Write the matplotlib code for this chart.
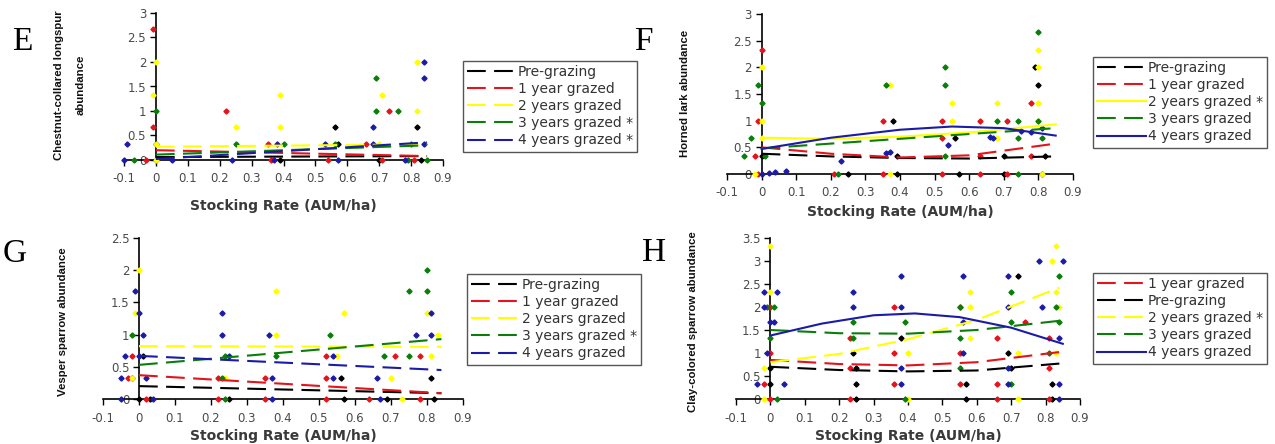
import numpy as np
import matplotlib
matplotlib.use('Agg')
import matplotlib.pyplot as plt
from matplotlib.ticker import FuncFormatter

W, H = 1275, 444

series = ['Pre-grazing', '1 year grazed', '2 years grazed', '3 years grazed', '4 years grazed']
colors = ['#000000', '#e3141b', '#ffff00', '#0a7d0a', '#1b1ba8']

# ---------------- E : chestnut-collared longspur ----------------
e_pre_x = [0.0, 0.0, 0.39, 0.56, 0.57, 0.70, 0.82, 0.83]
e_pre_y = [0.33, 0.0, 0.0, 0.67, 0.33, 0.0, 0.67, 0.0]
e_y1_x = [-0.01, -0.01, -0.03, 0.22, 0.35, 0.36, 0.54, 0.66, 0.73, 0.71, 0.81]
e_y1_y = [2.67, 0.67, 0.0, 1.0, 0.33, 0.0, 0.0, 0.33, 1.0, 0.0, 0.0]
e_y2_x = [0.0, -0.01, 0.0, 0.25, 0.39, 0.39, 0.71, 0.70, 0.82, 0.82, 0.0]
e_y2_y = [2.0, 1.33, 0.33, 0.67, 1.33, 0.67, 1.33, 0.33, 2.0, 1.0, 0.0]
e_y3_x = [0.0, -0.07, 0.25, 0.40, 0.56, 0.69, 0.69, 0.76, 0.80, 0.79, 0.85]
e_y3_y = [1.0, 0.0, 0.33, 0.33, 0.33, 1.67, 1.0, 1.0, 0.33, 0.0, 0.0]
e_y4_x = [-0.09, -0.1, 0.05, 0.24, 0.38, 0.37, 0.53, 0.57, 0.68, 0.68, 0.84, 0.84, 0.84, 0.78]
e_y4_y = [0.33, 0.0, 0.0, 0.0, 0.33, 0.0, 0.33, 0.0, 0.67, 0.33, 2.0, 1.67, 0.33, 0.0]
# trend lines
e_line_x = [0.0, 0.85]
e_line_pre = [0.06, 0.08]
e_line_y1 = [0.20, 0.08]
e_line_y2 = [0.27, 0.32]
e_line_y3 = [0.11, 0.30]
e_line_y4 = [0.02, 0.36]

# ---------------- F : horned lark ----------------
f_pre_x = [0.0, 0.25, 0.38, 0.39, 0.39, 0.56, 0.57, 0.70, 0.70, 0.79, 0.80, 0.81, 0.82]
f_pre_y = [0.33, 0.0, 1.0, 0.33, 0.0, 0.67, 0.0, 0.33, 0.0, 2.0, 1.67, 0.0, 0.33]
f_y1_x = [0.0, -0.01, -0.02, -0.01, 0.21, 0.35, 0.35, 0.52, 0.52, 0.52, 0.63, 0.63, 0.63, 0.71, 0.71, 0.78, 0.78]
f_y1_y = [2.33, 1.0, 0.33, 0.0, 0.0, 1.0, 0.0, 1.0, 0.67, 0.0, 1.0, 0.33, 0.0, 1.0, 0.0, 1.33, 0.33]
f_y2_x = [0.0, 0.0, 0.0, -0.02, 0.37, 0.37, 0.55, 0.55, 0.68, 0.68, 0.80, 0.80, 0.80, 0.80, 0.81]
f_y2_y = [2.0, 1.0, 0.67, 0.0, 1.67, 0.0, 1.33, 1.0, 1.33, 0.67, 2.33, 2.0, 1.33, 1.0, 0.0]
f_y3_x = [-0.01, 0.0, -0.03, -0.05, 0.01, 0.22, 0.36, 0.53, 0.53, 0.53, 0.68, 0.74, 0.74, 0.74, 0.80, 0.80, 0.81]
f_y3_y = [1.67, 1.33, 0.67, 0.33, 0.33, 0.0, 1.67, 2.0, 1.67, 0.33, 1.0, 1.0, 0.67, 0.0, 2.67, 1.0, 0.67]
f_y4_x = [0.0, 0.02, 0.04, 0.07, 0.23, 0.36, 0.37, 0.54, 0.66, 0.67, 0.75, 0.78, 0.81]
f_y4_y = [0.0, 0.02, 0.03, 0.05, 0.25, 0.40, 0.42, 0.55, 0.70, 0.68, 0.80, 0.79, 0.86]
f_line_x = [0.0, 0.2, 0.4, 0.6, 0.85]
f_line_pre = [0.38, 0.33, 0.30, 0.29, 0.33]
f_line_y1 = [0.50, 0.38, 0.31, 0.35, 0.57]
f_line_y2 = [0.68, 0.66, 0.70, 0.78, 0.93]
f_line_y3 = [0.48, 0.57, 0.66, 0.75, 0.86]
f_line_x4 = [0.0, 0.2, 0.4, 0.55, 0.7, 0.85]
f_line_y4 = [0.47, 0.68, 0.83, 0.89, 0.86, 0.72]

# ---------------- G : vesper sparrow ----------------
g_pre_x = [0.01, -0.02, 0.0, 0.03, 0.25, 0.56, 0.57, 0.69, 0.81, 0.82]
g_pre_y = [0.67, 0.33, 0.0, 0.0, 0.0, 0.33, 0.0, 0.0, 0.33, 0.0]
g_y1_x = [-0.02, -0.03, 0.02, 0.22, 0.22, 0.35, 0.35, 0.52, 0.52, 0.52, 0.64, 0.71, 0.78, 0.78]
g_y1_y = [0.67, 0.33, 0.0, 0.33, 0.0, 0.33, 0.0, 0.67, 0.33, 0.0, 0.0, 0.67, 0.67, 0.0]
g_y2_x = [0.0, -0.01, -0.02, 0.24, 0.38, 0.38, 0.55, 0.57, 0.70, 0.80, 0.83, 0.81, 0.73]
g_y2_y = [2.0, 1.33, 0.33, 0.33, 1.67, 1.0, 0.67, 1.33, 0.33, 1.33, 1.0, 0.67, 0.0]
g_y3_x = [-0.02, 0.24, 0.23, 0.38, 0.53, 0.68, 0.75, 0.75, 0.80, 0.80, 0.24]
g_y3_y = [1.0, 0.67, 0.33, 0.67, 1.0, 0.67, 1.67, 0.67, 2.0, 1.67, 0.0]
g_y4_x = [-0.01, 0.0, 0.01, -0.04, 0.0, -0.05, 0.02, -0.05, 0.04, 0.23, 0.23, 0.25,
          0.36, 0.37, 0.37, 0.54, 0.54, 0.66, 0.67, 0.77, 0.81, 0.81]
g_y4_y = [1.67, 1.33, 1.0, 0.67, 0.67, 0.33, 0.33, 0.0, 0.0, 1.33, 1.0, 0.67,
          1.0, 0.33, 0.0, 0.67, 0.33, 0.33, 0.0, 1.0, 1.33, 1.0]
g_line_x = [0.0, 0.84]
g_line_pre = [0.20, 0.09]
g_line_y1 = [0.37, 0.09]
g_line_y2 = [0.82, 0.81]
g_line_y3 = [0.53, 0.93]
g_line_y4 = [0.67, 0.45]

# ---------------- H : clay-colored sparrow ----------------
h_pre_x = [0.0, 0.0, 0.24, 0.25, 0.25, 0.25, 0.38, 0.57, 0.57, 0.69, 0.70, 0.72, 0.82, 0.82]
h_pre_y = [0.67, 0.33, 1.0, 0.67, 0.33, 0.0, 1.33, 0.33, 0.0, 1.0, 0.67, 2.67, 0.33, 0.0]
h_y1_x = [0.0, 0.0, -0.02, 0.0, 0.23, 0.23, 0.23, 0.36, 0.36, 0.36, 0.55, 0.55, 0.55,
          0.66, 0.66, 0.66, 0.74, 0.81, 0.81, 0.81]
h_y1_y = [2.0, 1.0, 0.33, 0.0, 1.33, 0.67, 0.0, 2.0, 1.0, 0.33, 2.0, 1.0, 0.33,
          1.33, 0.33, 0.0, 1.67, 1.33, 0.67, 0.0]
h_y2_x = [0.0, 0.0, -0.02, -0.02, 0.40, 0.40, 0.58, 0.58, 0.58, 0.72, 0.72, 0.83, 0.82, 0.83, 0.84, 0.83]
h_y2_y = [3.33, 2.33, 0.67, 0.0, 1.0, 0.0, 2.33, 2.0, 1.33, 1.0, 0.0, 3.33, 3.0, 2.33, 2.0, 1.0]
h_y3_x = [-0.01, 0.01, 0.0, 0.02, 0.24, 0.24, 0.39, 0.39, 0.55, 0.55, 0.55, 0.70, 0.70, 0.70,
          0.84, 0.83, 0.84, 0.81]
h_y3_y = [2.0, 2.0, 1.33, 0.0, 1.67, 1.33, 1.67, 0.0, 2.0, 1.33, 0.67, 2.33, 1.67, 0.33,
          2.67, 2.0, 1.67, 1.0]
h_y4_x = [-0.02, 0.02, -0.02, 0.0, 0.01, -0.01, -0.04, 0.04, 0.24, 0.24, 0.38, 0.38, 0.38, 0.38,
          0.56, 0.56, 0.56, 0.69, 0.69, 0.69, 0.69, 0.78, 0.79, 0.85, 0.84, 0.84, 0.84]
h_y4_y = [2.33, 2.33, 2.0, 1.67, 1.67, 1.0, 0.33, 0.33, 2.33, 2.0, 2.67, 2.0, 0.67, 0.33,
          2.67, 1.67, 1.0, 2.67, 2.0, 0.67, 0.33, 3.0, 2.0, 3.0, 1.33, 0.33, 0.0]
h_line_x = [0.0, 0.2, 0.4, 0.6, 0.84]
h_line_pre = [0.70, 0.63, 0.60, 0.62, 0.77]
h_line_y1 = [0.85, 0.76, 0.73, 0.80, 1.02]
h_line_y2 = [0.80, 0.98, 1.30, 1.72, 2.42]
h_line_y3 = [1.50, 1.43, 1.42, 1.50, 1.70]
h_line_x4 = [0.0, 0.15, 0.3, 0.42, 0.55, 0.7, 0.85]
h_line_y4 = [1.38, 1.64, 1.82, 1.86, 1.78, 1.55, 1.20]

DASH = (9, 4)
TICK_GRAY = '#4a4a4a'

fig = plt.figure(figsize=(W / 100, H / 100), dpi=100)


def px_axes(x0, x1, y_top, y_bot):
    # axes rect from pixel positions of x=-0.1/0.9 and y=max/0
    return fig.add_axes([x0 / W, 1 - y_bot / H, (x1 - x0) / W, (y_bot - y_top) / H])


def draw_panel(ax, pts, lines, solid, ymax, ystep, labelpad):
    ax.set_xlim(-0.1, 0.9)
    ax.set_ylim(0, ymax)
    ax.patch.set_visible(False)
    for s in ['top', 'right']:
        ax.spines[s].set_visible(False)
    ax.spines['left'].set_position(('data', 0))
    ax.spines['left'].set_linewidth(1.2)
    ax.spines['bottom'].set_linewidth(1.2)
    ax.set_xticks(np.round(np.arange(-0.1, 0.91, 0.1), 1))
    ax.set_yticks(np.round(np.arange(0, ymax + 0.01, ystep), 1))
    fmt = FuncFormatter(lambda v, p: '%g' % round(v, 1))
    ax.xaxis.set_major_formatter(fmt)
    ax.yaxis.set_major_formatter(fmt)
    ax.tick_params(direction='out', length=4, width=1, color='black',
                   labelcolor=TICK_GRAY, labelsize=8.5)
    ax.tick_params(axis='x', pad=5)
    ax.tick_params(axis='y', pad=3)

    for i, (xs, ys) in enumerate(pts):
        ax.plot(xs, ys, linestyle='none', marker='D', ms=2.6, color=colors[i],
                mec=colors[i], clip_on=False, zorder=3)
    handles = []
    for i, (xs, ys) in enumerate(lines):
        if solid[i]:
            ln, = ax.plot(xs, ys, color=colors[i], lw=1.5, zorder=4)
        else:
            ln, = ax.plot(xs, ys, color=colors[i], lw=1.5, dashes=DASH, zorder=4)
        handles.append(ln)
    ax.set_xlabel('Stocking Rate (AUM/ha)', fontsize=10, fontweight='bold',
                  color='#3a3a3a', labelpad=labelpad)
    return handles


def add_legend(ax, handles, labels, order, x, y):
    lg = ax.legend([handles[i] for i in order], [labels[i] for i in order],
                   loc='upper left', bbox_to_anchor=(x / W, 1 - y / H),
                   bbox_transform=fig.transFigure, fancybox=False,
                   edgecolor='#555555', fontsize=10, handlelength=3.5,
                   labelspacing=0.22, borderpad=0.3, handletextpad=0.15,
                   borderaxespad=0, framealpha=1)
    lg.get_frame().set_linewidth(1.0)
    for t in lg.get_texts():
        t.set_color('#333333')


ylab_font = dict(family=['Liberation Sans', 'DejaVu Sans'], fontweight='bold',
                 fontsize=8.2, rotation=90, ha='center', va='center', color='#111111')
letter_font = dict(family=['Liberation Serif', 'DejaVu Serif'], fontsize=24,
                   ha='center', va='center')

# E
ax = px_axes(124, 443, 13, 160)
h = draw_panel(ax,
               [(e_pre_x, e_pre_y), (e_y1_x, e_y1_y), (e_y2_x, e_y2_y), (e_y3_x, e_y3_y), (e_y4_x, e_y4_y)],
               [(e_line_x, e_line_pre), (e_line_x, e_line_y1), (e_line_x, e_line_y2),
                (e_line_x, e_line_y3), (e_line_x, e_line_y4)],
               [False] * 5, 3, 0.5, 10)
add_legend(ax, h, ['Pre-grazing', '1 year grazed', '2 years grazed', '3 years grazed *',
                   '4 years grazed *'], [0, 1, 2, 3, 4], 463, 61)
fig.text(70 / W, 1 - 85 / H, 'Chestnut-collared longspur\nabundance', linespacing=2.4, **ylab_font)
fig.text(22 / W, 1 - 42 / H, 'E', **letter_font)

# F
ax = px_axes(727, 1073, 14, 174)
h = draw_panel(ax,
               [(f_pre_x, f_pre_y), (f_y1_x, f_y1_y), (f_y2_x, f_y2_y), (f_y3_x, f_y3_y), (f_y4_x, f_y4_y)],
               [(f_line_x, f_line_pre), (f_line_x, f_line_y1), (f_line_x, f_line_y2),
                (f_line_x, f_line_y3), (f_line_x4, f_line_y4)],
               [False, False, True, False, True], 3, 0.5, 4)
add_legend(ax, h, ['Pre-grazing', '1 year grazed', '2 years grazed *', '3 years grazed',
                   '4 years grazed'], [0, 1, 2, 3, 4], 1093, 57)
fig.text(685 / W, 1 - 93 / H, 'Horned lark abundance', **ylab_font)
fig.text(643 / W, 1 - 42 / H, 'F', **letter_font)

# G
ax = px_axes(103, 463, 238, 399)
h = draw_panel(ax,
               [(g_pre_x, g_pre_y), (g_y1_x, g_y1_y), (g_y2_x, g_y2_y), (g_y3_x, g_y3_y), (g_y4_x, g_y4_y)],
               [(g_line_x, g_line_pre), (g_line_x, g_line_y1), (g_line_x, g_line_y2),
                (g_line_x, g_line_y3), (g_line_x, g_line_y4)],
               [False] * 5, 2.5, 0.5, 3)
add_legend(ax, h, ['Pre-grazing', '1 year grazed', '2 years grazed', '3 years grazed *',
                   '4 years grazed'], [0, 1, 2, 3, 4], 467, 274)
fig.text(63 / W, 1 - 322 / H, 'Vesper sparrow abundance', **ylab_font)
fig.text(15 / W, 1 - 254 / H, 'G', **letter_font)

# H
ax = px_axes(736, 1080, 238, 399)
h = draw_panel(ax,
               [(h_pre_x, h_pre_y), (h_y1_x, h_y1_y), (h_y2_x, h_y2_y), (h_y3_x, h_y3_y), (h_y4_x, h_y4_y)],
               [(h_line_x, h_line_pre), (h_line_x, h_line_y1), (h_line_x, h_line_y2),
                (h_line_x, h_line_y3), (h_line_x4, h_line_y4)],
               [False, False, False, False, True], 3.5, 0.5, 3)
add_legend(ax, h, ['Pre-grazing', '1 year grazed', '2 years grazed *', '3 years grazed',
                   '4 years grazed'], [1, 0, 2, 3, 4], 1093, 273)
fig.text(693 / W, 1 - 322 / H, 'Clay-colored sparrow abundance', **ylab_font)
fig.text(654 / W, 1 - 253 / H, 'H', **letter_font)

fig.savefig('out.png', dpi=100, facecolor='white')
